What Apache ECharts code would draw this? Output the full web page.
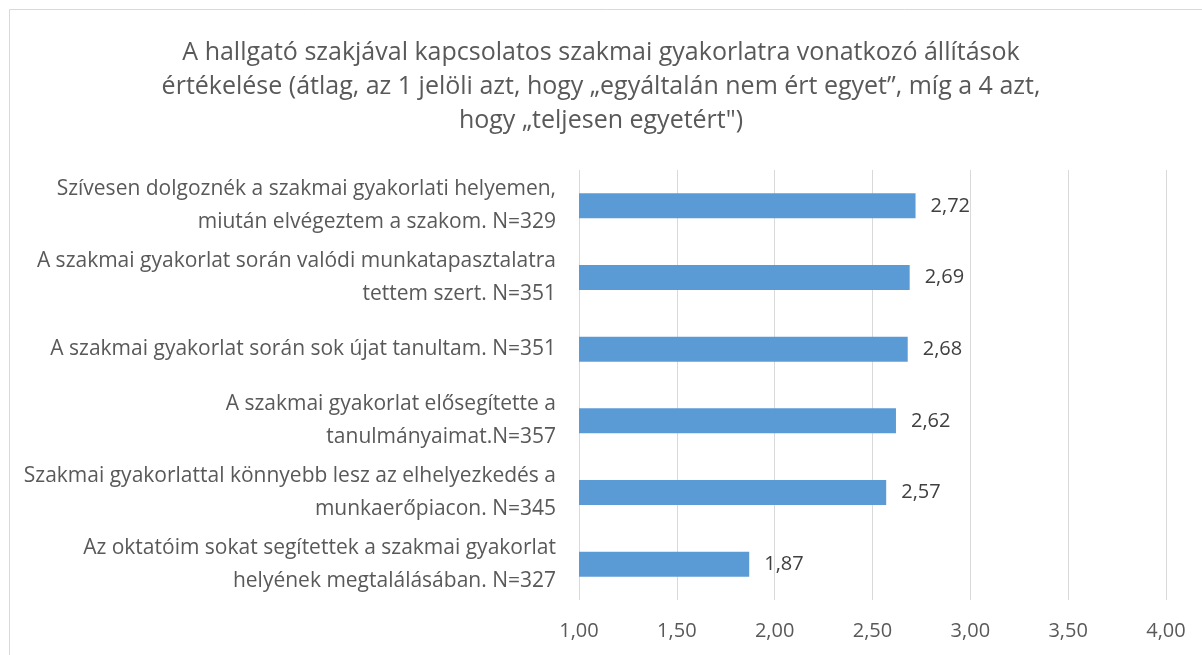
<!DOCTYPE html>
<html><head><meta charset="utf-8">
<script src="https://cdn.jsdelivr.net/npm/echarts@6/dist/echarts.min.js"></script>
<style>html,body{margin:0;padding:0;background:#fff}#c{width:1202px;height:655px}</style>
</head><body><div id="c"></div>
<script>
const categories = [
  "Szívesen dolgoznék a szakmai gyakorlati helyemen,\nmiután elvégeztem a szakom. N=329",
  "A szakmai gyakorlat során valódi munkatapasztalatra\ntettem szert. N=351",
  "A szakmai gyakorlat során sok újat tanultam. N=351",
  "A szakmai gyakorlat elősegítette a\ntanulmányaimat.N=357",
  "Szakmai gyakorlattal könnyebb lesz az elhelyezkedés a\nmunkaerőpiacon. N=345",
  "Az oktatóim sokat segítettek a szakmai gyakorlat\nhelyének megtalálásában. N=327"
];
const values = [2.72, 2.69, 2.68, 2.62, 2.57, 1.87];
const titleText = "A hallgató szakjával kapcsolatos szakmai gyakorlatra vonatkozó állítások\nértékelése (átlag, az 1 jelöli azt, hogy „egyáltalán nem ért egyet”, míg a 4 azt,\nhogy „teljesen egyetért\")";
const fmt = v => Number(v).toFixed(2).replace('.', ',');
const FONT = '"Open Sans", "Liberation Sans", sans-serif';
const chart = echarts.init(document.getElementById('c'));
chart.setOption({
  backgroundColor: '#fff',
  animation: false,
  textStyle: {fontFamily: FONT},
  title: {
    text: titleText, left: 'center', top: 31,
    textStyle: {fontFamily: FONT, fontSize: 25, fontWeight: 'normal', color: '#595959', lineHeight: 34}
  },
  graphic: [{type: 'rect', shape: {x: 9.5, y: 9.5, width: 1300, height: 700}, style: {fill: 'none', stroke: '#D9D9D9', lineWidth: 1}, silent: true}],
  grid: {left: 579, right: 36, top: 170, bottom: 55, containLabel: false},
  xAxis: {
    type: 'value', min: 1, max: 4, interval: 0.5,
    axisLine: {show: false}, axisTick: {show: false},
    splitLine: {lineStyle: {color: '#D9D9D9', width: 1}},
    axisLabel: {formatter: fmt, color: '#595959', fontSize: 20, fontFamily: FONT, margin: 21}
  },
  yAxis: {
    type: 'category', data: categories, inverse: true,
    axisLine: {show: false}, axisTick: {show: false},
    axisLabel: {color: '#595959', fontSize: 21, fontFamily: FONT, align: 'right', margin: 23, lineHeight: 33}
  },
  series: [{
    type: 'bar', data: values, barWidth: 25,
    itemStyle: {color: '#5B9BD5'},
    label: {show: true, position: 'right', distance: 15, formatter: p => fmt(p.value), color: '#404040', fontSize: 20, fontFamily: FONT}
  }]
});
</script></body></html>
